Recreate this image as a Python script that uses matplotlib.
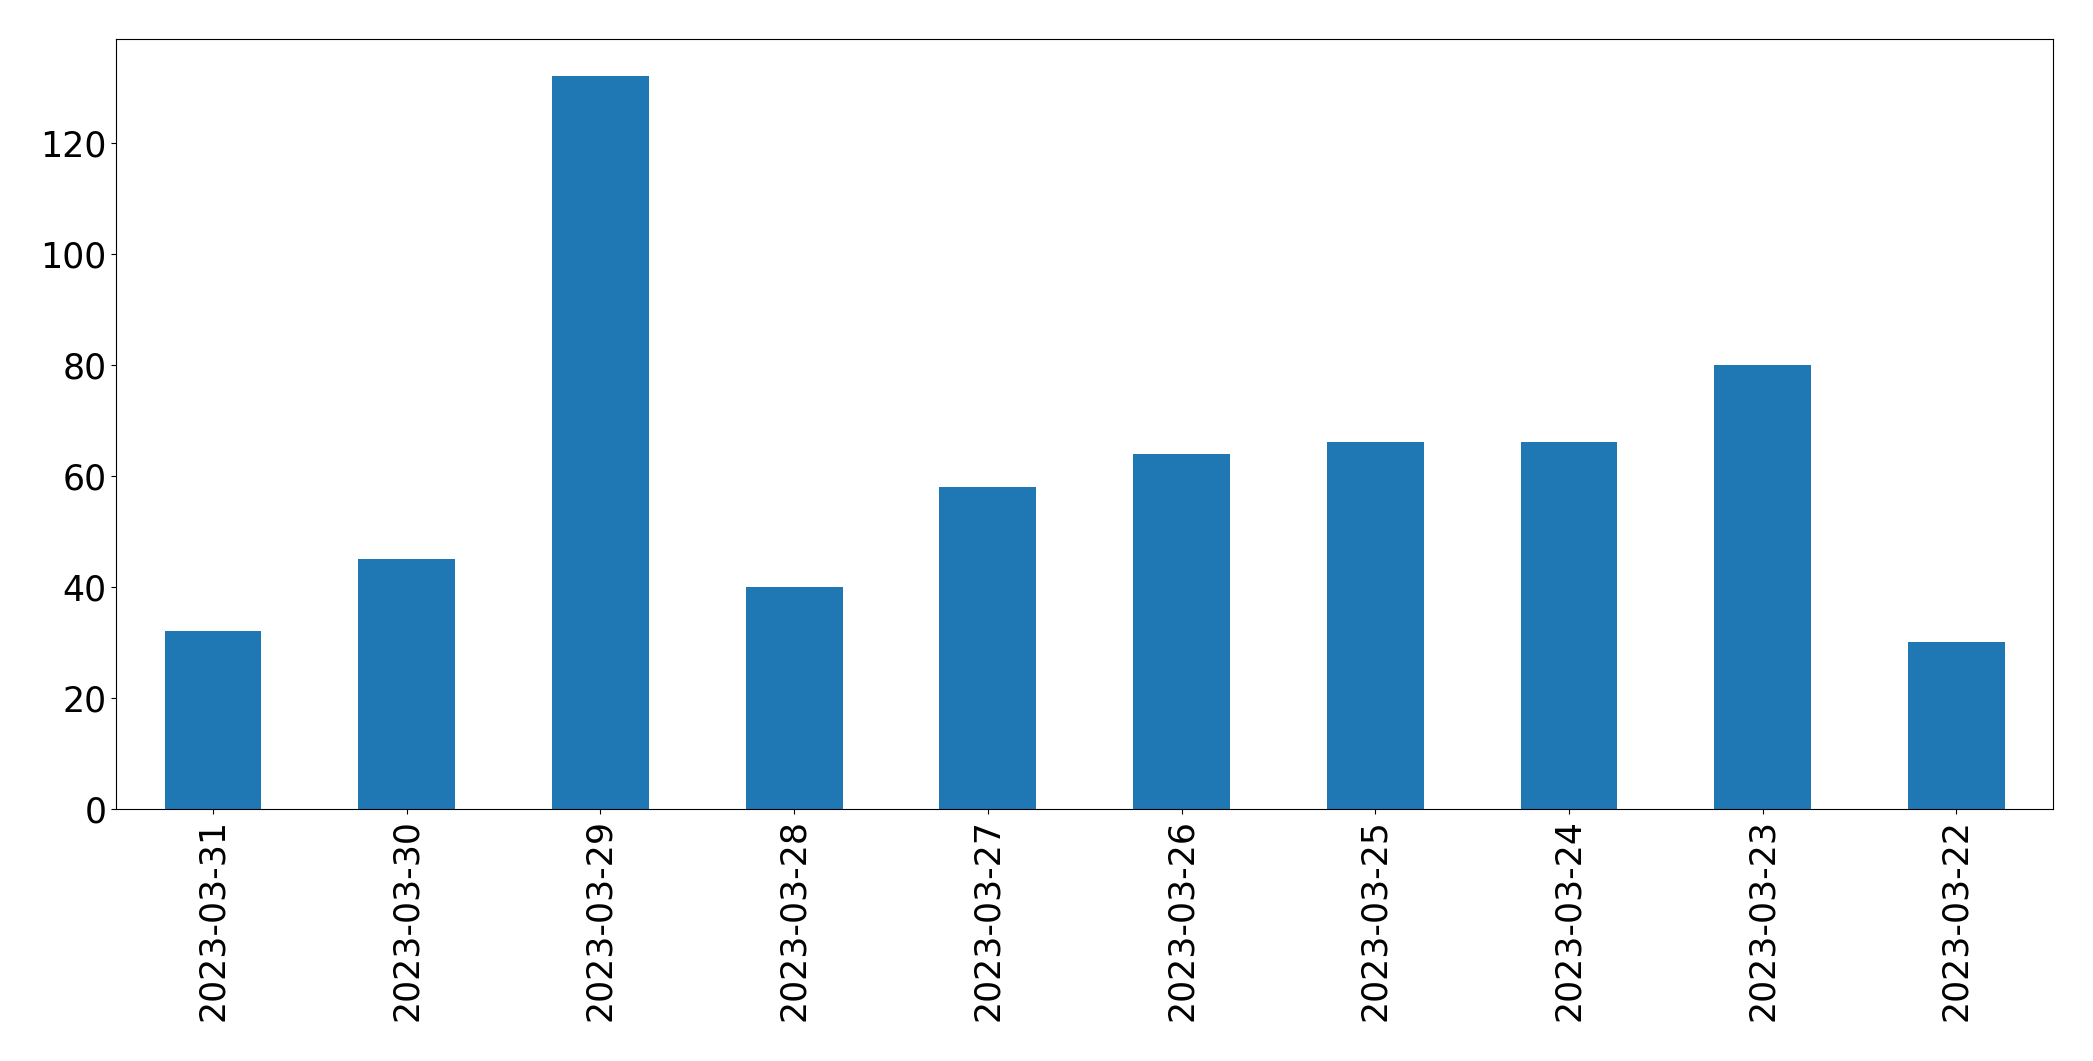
import matplotlib
matplotlib.use("Agg")
import matplotlib.pyplot as plt

dates = ["2023-03-31", "2023-03-30", "2023-03-29", "2023-03-28", "2023-03-27",
         "2023-03-26", "2023-03-25", "2023-03-24", "2023-03-23", "2023-03-22"]
counts = [32, 45, 132, 40, 58, 64, 66, 66, 80, 30]

fig = plt.figure(figsize=(20.93, 10.61), dpi=100)
ax = fig.add_axes([0.0555, 0.2375, 0.9255, 0.7255])
x = range(len(dates))
ax.bar(x, counts, width=0.5, color="#1f77b4")
ax.set_xticks(list(x))
ax.set_xticklabels(dates, rotation=90)
ax.set_xlim(-0.5, len(dates) - 0.5)
ax.tick_params(labelsize=25)
fig.savefig("out.png", dpi=100)
